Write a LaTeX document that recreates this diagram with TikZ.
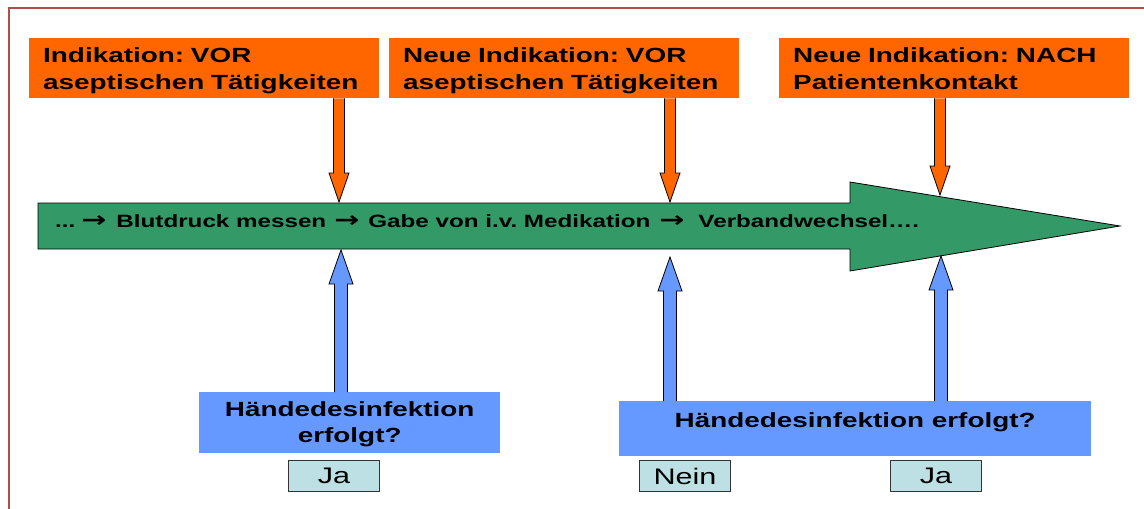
\documentclass[tikz,border=0pt]{standalone}
\usepackage{fontspec}
\setmainfont{Liberation Sans}[FakeStretch=1.36]
\newfontfamily\arrowfont{DejaVu Sans}[FakeStretch=1.36]
\newcommand{\stepsep}{{\arrowfont\bfseries\fontsize{22}{20}\selectfont →}}
\usetikzlibrary{calc}

\definecolor{indorange}{RGB}{255,102,0}
\definecolor{stepgreen}{RGB}{51,153,102}
\definecolor{hdblue}{RGB}{102,153,255}
\definecolor{answercyan}{RGB}{188,224,227}
\definecolor{framered}{RGB}{176,76,76}

\begin{document}
\frenchspacing
\begin{tikzpicture}[x=1pt, y=-1pt,
        indication/.style={rectangle, fill=indorange, anchor=north west, minimum width=350pt, minimum height=60pt,
            text width=322pt, inner xsep=14pt, align=left, text height=15pt, text depth=27pt,
            font=\fontsize{20.5}{27}\selectfont\bfseries},
        check/.style={rectangle, fill=hdblue, anchor=north west, align=center, inner ysep=0pt,
            font=\fontsize{20.5}{26}\selectfont\bfseries},
        answer/.style={rectangle, draw=black!80, fill=answercyan, line width=0.9pt, minimum width=91pt,
            minimum height=31pt, inner sep=0pt, font=\fontsize{22.5}{27}\selectfont},
        blockarrow/.style n args={4}{draw=black, line width=0.8pt, fill=#1,
            to path={let \p1=(\tikztostart), \p2=(\tikztotarget),
                \p3=($(\tikztotarget)!#4!(\tikztostart)$) in
                (\x1-#2,\y1) -- (\x1-#2,\y3) -- (\x1-#3,\y3) -- (\x1,\y2)
                -- (\x1+#3,\y3) -- (\x1+#2,\y3) -- (\x1+#2,\y1)}},
        ind arrow/.style={blockarrow={indorange}{5.5pt}{10pt}{29pt}},
        check arrow/.style={blockarrow={hdblue}{6.5pt}{12pt}{34pt}}
    ]
    \useasboundingbox (0,0) rectangle (1144,509);
    \draw[framered, line width=2pt] (8.5,509) -- (8.5,7.5) -- (1144,7.5);

    % timeline
    \draw[fill=stepgreen, line width=0.8pt] (38,203) -- (850,203) -- (850,182) -- (1120,226)
        -- (850,271) -- (850,249) -- (38,249) -- cycle;
    \node[anchor=base west, inner sep=0pt, font=\fontsize{17.8}{20}\selectfont\bfseries] (steps) at (55,227)
        {...\hspace{6pt}\stepsep\hspace{10pt}Blutdruck messen\hspace{8pt}\stepsep\hspace{9pt}Gabe von i.v. Medikation\hspace{9pt}\stepsep\hspace{14pt}Verbandwechsel….};

    \coordinate (top1) at (339,202);
    \coordinate (top2) at (670,202);
    \coordinate (top3) at (940,195);
    \coordinate (bot1) at (341,250);
    \coordinate (bot2) at (670,257);
    \coordinate (bot3) at (941,256);

    \node[indication] (ind1) at (29,38) {Indikation: VOR\\aseptischen Tätigkeiten};
    \node[indication] (ind2) at (389,38) {Neue Indikation: VOR\\aseptischen Tätigkeiten};
    \node[indication] (ind3) at (779,38) {Neue Indikation: NACH\\Patientenkontakt};

    \node[check, minimum width=301pt, minimum height=61pt, text height=40.5pt, text depth=0pt]
        (hd1) at (199,392) {Händedesinfektion\\erfolgt?};
    \node[check, minimum width=472pt, minimum height=55pt, text height=15pt, text depth=18pt, inner ysep=11pt]
        (hd2) at (619,401) {Händedesinfektion erfolgt?};

    \draw[ind arrow] (ind1.south -| top1) to (top1);
    \draw[ind arrow] (ind2.south -| top2) to (top2);
    \draw[ind arrow] (ind3.south -| top3) to (top3);

    \draw[check arrow] (hd1.north -| bot1) to (bot1);
    \draw[check arrow] (hd2.north -| bot2) to (bot2);
    \draw[check arrow] (hd2.north -| bot3) to (bot3);

    \node[answer] (ja1) at (334,476) {Ja};
    \node[answer] (nein) at (685,476) {Nein};
    \node[answer] (ja2) at (936,476) {Ja};
\end{tikzpicture}
\end{document}
